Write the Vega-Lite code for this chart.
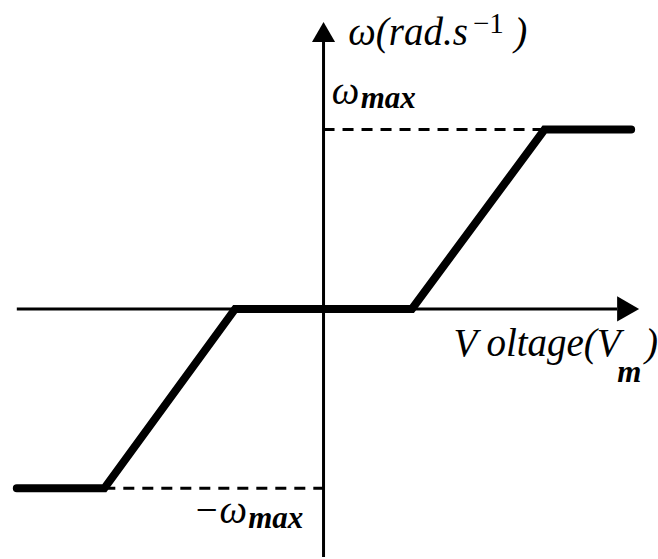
{
  "$schema": "https://vega.github.io/schema/vega-lite/v6.json",
  "width": 658,
  "height": 559,
  "autosize": {"type": "fit", "contains": "padding"},
  "padding": 0,
  "background": "white",
  "config": {"view": {"stroke": null}},
  "datasets": {
    "axes": [
      {"name": "voltage", "x": -3.47, "x2": 3.32, "y": 0, "y2": 0},
      {"name": "omega", "x": 0, "x2": 0, "y": -1.3833, "y2": 1.489}
    ],
    "limits": [
      {"name": "omega_max", "x": 0, "x2": 2.5, "y": 1, "y2": 1},
      {"name": "minus_omega_max", "x": -2.48, "x2": 0, "y": -1, "y2": -1}
    ],
    "response": [
      {"i": 0, "voltage": -3.47, "omega": -1},
      {"i": 1, "voltage": -2.48, "omega": -1},
      {"i": 2, "voltage": -1, "omega": 0},
      {"i": 3, "voltage": 1, "omega": 0},
      {"i": 4, "voltage": 2.5, "omega": 1},
      {"i": 5, "voltage": 3.48, "omega": 1}
    ],
    "arrowheads": [
      {"dir": "right", "x": 3.446, "y": 0},
      {"dir": "up", "x": 0, "y": 1.544}
    ],
    "labels": [
      {"role": "main", "text": "ω(rad.s", "x": 0.957, "y": 1.472},
      {"role": "sup", "text": "−1", "x": 1.69, "y": 1.539},
      {"role": "main", "text": ")", "x": 2.23, "y": 1.472},
      {"role": "main", "text": "ω", "x": 0.248, "y": 1.144},
      {"role": "sub", "text": "max", "x": 0.732, "y": 1.122},
      {"role": "main", "text": "−ω", "x": -1.171, "y": -1.194},
      {"role": "sub", "text": "max", "x": -0.541, "y": -1.222},
      {"role": "main", "text": "V oltage(V", "x": 2.416, "y": -0.261},
      {"role": "sub", "text": "m", "x": 3.46, "y": -0.406},
      {"role": "main", "text": ")", "x": 3.71, "y": -0.261}
    ]
  },
  "encoding": {
    "x": {"field": "x", "type": "quantitative", "axis": null,
          "scale": {"domain": [-3.6375, 3.7725], "nice": false, "zero": false}},
    "y": {"field": "y", "type": "quantitative", "axis": null,
          "scale": {"domain": [-1.3833, 1.7222], "nice": false, "zero": false}}
  },
  "layer": [
    {
      "data": {"name": "axes"},
      "mark": {"type": "rule", "color": "black", "strokeWidth": 3},
      "encoding": {
        "x2": {"field": "x2"},
        "y2": {"field": "y2"}
      }
    },
    {
      "data": {"name": "limits"},
      "mark": {"type": "rule", "color": "black", "strokeWidth": 3, "strokeDash": [11, 8]},
      "encoding": {
        "x2": {"field": "x2"},
        "y2": {"field": "y2"}
      }
    },
    {
      "data": {"name": "response"},
      "mark": {"type": "line", "color": "black", "strokeWidth": 8, "strokeCap": "round", "strokeJoin": "miter"},
      "encoding": {
        "x": {"field": "voltage", "type": "quantitative"},
        "y": {"field": "omega", "type": "quantitative"},
        "order": {"field": "i", "type": "quantitative"}
      }
    },
    {
      "data": {"name": "arrowheads"},
      "transform": [{"filter": "datum.dir === 'right'"}],
      "mark": {"type": "point", "shape": "triangle-right", "filled": true, "color": "black", "size": 645, "opacity": 1}
    },
    {
      "data": {"name": "arrowheads"},
      "transform": [{"filter": "datum.dir === 'up'"}],
      "mark": {"type": "point", "shape": "triangle-up", "filled": true, "color": "black", "size": 533, "opacity": 1}
    },
    {
      "data": {"name": "labels"},
      "transform": [{"filter": "datum.role === 'main'"}],
      "mark": {"type": "text", "font": "Liberation Serif", "fontStyle": "italic", "fontSize": 39, "align": "center", "baseline": "alphabetic", "color": "black"},
      "encoding": {"text": {"field": "text"}}
    },
    {
      "data": {"name": "labels"},
      "transform": [{"filter": "datum.role === 'sub'"}],
      "mark": {"type": "text", "font": "Liberation Serif", "fontStyle": "italic", "fontWeight": "bold", "fontSize": 31, "align": "center", "baseline": "alphabetic", "color": "black"},
      "encoding": {"text": {"field": "text"}}
    },
    {
      "data": {"name": "labels"},
      "transform": [{"filter": "datum.role === 'sup'"}],
      "mark": {"type": "text", "font": "Liberation Serif", "fontSize": 29, "align": "left", "baseline": "alphabetic", "color": "black"},
      "encoding": {"text": {"field": "text"}}
    }
  ]
}
